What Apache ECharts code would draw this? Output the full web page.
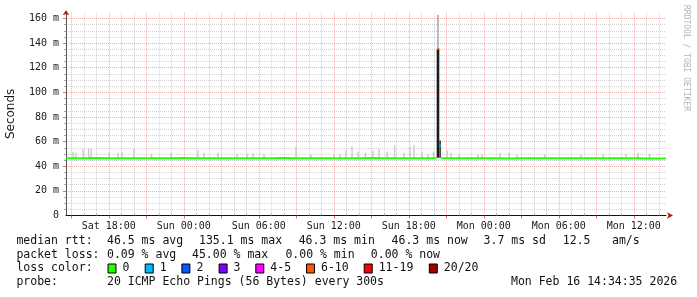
<!DOCTYPE html>
<html><head><meta charset="utf-8">
<script src="https://cdn.jsdelivr.net/npm/echarts@6/dist/echarts.min.js"></script>
<style>html,body{margin:0;padding:0;background:#fff}#c{width:697px;height:297px}</style>
</head><body><div id="c"></div>
<script>
// ---------- DATA (hours counted from Sat 00:00) ----------
const X_MIN = 14 + 34/60 + 35/3600;   // Sat 14:34:35
const X_MAX = X_MIN + 48;             // Mon 14:34:35
const Y_MAX = 165;

const xMajorHours = [15,18,21,24,27,30,33,36,39,42,45,48,51,54,57,60];
const xMinorHours = [16,17,19,20,22,23,25,26,28,29,31,32,34,35,37,38,40,41,43,44,46,47,49,50,52,53,55,56,58,59,61,62];
const xLabelHours = [18,24,30,36,42,48,54,60];
const xLabelText  = ['Sat 18:00','Sun 00:00','Sun 06:00','Sun 12:00','Sun 18:00','Mon 00:00','Mon 06:00','Mon 12:00'];

const yMajor = [20,40,60,80,100,120,140,160];
const yMinor = [5,10,15,25,30,35,45,50,55,65,70,75,85,90,95,105,110,115,125,130,135,145,150,155];
const yLabelValues = [0,20,40,60,80,100,120,140,160];
const yLabelText   = ['0','20 m','40 m','60 m','80 m','100 m','120 m','140 m','160 m'];

// median rtt (ms); null = no loss-free median (drawn in loss colour instead)
const medianTime = [14.58,15,16,17,18,19,20,21,22,23,24,25,26,27,28,29,30,31,32,33,34,35,36,37,38,39,40,41,42,43,44,44.23,44.40,44.58,45,46,47,48,49,50,51,52,53,54,55,56,57,58,59,60,61,62,62.58];
const medianMs   = [46.5,46.5,46.5,46.6,46.5,46.5,46.4,46.5,46.5,46.5,46.6,46.5,46.5,46.4,46.5,46.5,46.5,46.5,46.6,46.5,46.5,46.5,46.4,46.5,46.5,46.6,46.5,46.5,46.5,46.5,46.5,46.5,null,46.5,46.4,46.5,46.5,46.5,46.5,46.3,46.5,46.5,46.5,46.4,46.5,46.5,46.5,46.5,46.4,46.5,46.3,46.3,46.3];

// samples with packet loss
const lossStart  = [44.28, 44.44];
const lossEnd    = [44.44, 44.58];
const lossMs     = [135.1, 56.7];
const lossBucket = [5, 1];           // index into lossLabels

// light smoke (ping spread above the median)
const SMOKE_FLOOR = 46.2;
const smokeTime = [15.14,15.38,15.94,16.38,16.58,18.02,18.74,19.06,20.02,21.42,22.98,25.14,25.62,26.74,28.26,29.06,29.54,30.42,32.98,34.18,36.02,36.50,36.98,37.46,37.94,38.54,39.14,39.62,40.26,40.87,41.62,42.10,42.42,43.06,43.54,43.98,45.06,45.38,46.02,47.54,47.86,49.30,50.02,50.66,52.86,55.78,57.54,59.38,60.34,61.26];
const smokeHigh = [51.9,51,54,54.4,54,51,51,52,54,50,51,53,51,51,50,50.5,50.5,50,56,49.5,50,50,53,56,52,51,52.5,54,52,57,51,56,57,52,50,52,53,51,49.5,49.5,49.5,51,51,49.5,50,49.5,50,50,51,50];

// the spike around Sun 20:20
const spikeCoreTime = [44.336]; const spikeCoreLow = [46.8]; const spikeCoreHigh = [135.1];
const spikeTailTime = [44.336]; const spikeTailLow = [135.1]; const spikeTailHigh = [163];
const spikeSideTime = [44.508]; const spikeSideLow = [46.8]; const spikeSideHigh = [61];

// legend texts
const rttStats  = ['46.5 ms avg','135.1 ms max','46.3 ms min','46.3 ms now','3.7 ms sd','12.5','am/s'];
const lossStats = ['0.09 % avg','45.00 % max','0.00 % min','0.00 % now'];
const lossLabels = ['0','1','2','3','4-5','6-10','11-19','20/20'];
const probeText = '20 ICMP Echo Pings (56 Bytes) every 300s';
const stampText = 'Mon Feb 16 14:34:35 2026';

// ---------- STYLE / LAYOUT ----------
const lossColors = ['#26ff00','#00b8ff','#0059ff','#7e00ff','#ff00ff','#ff5500','#ff0000','#a10000'];
const MONO = '"DejaVu Sans Mono", monospace';
const majorLine = {color:'rgba(225,95,95,0.5)', width:1, type:[1,1]};
const minorLine = {color:'rgba(150,150,150,0.42)', width:1, type:[1,1]};
const ARROW = '#9a1c1c';

function smokeSeries(times, lows, highs, w, color, z) {
  return {
    type:'custom', xAxisIndex:0, yAxisIndex:0, z:z, silent:true, clip:true,
    encode:{x:0, y:[1,2]},
    data: times.map((t,i)=>[t, lows[i], highs[i]]),
    renderItem: function(params, api){
      const a = api.coord([api.value(0), api.value(1)]);
      const b = api.coord([api.value(0), api.value(2)]);
      return {type:'rect', shape:{x:a[0]-w/2, y:b[1], width:w, height:a[1]-b[1]}, style:{fill:color}};
    }
  };
}

const series = [];
series.push(smokeSeries(smokeTime, smokeTime.map(()=>SMOKE_FLOOR), smokeHigh, 1.4, '#c8c8c8', 2));
series.push(smokeSeries(spikeTailTime, spikeTailLow, spikeTailHigh, 1, '#7a7a7a', 3));
series.push(smokeSeries(spikeCoreTime, spikeCoreLow, spikeCoreHigh, 2.6, '#1c1c1c', 3));
series.push(smokeSeries(spikeSideTime, spikeSideLow, spikeSideHigh, 1.8, '#4a4a4a', 3));
series.push({
  type:'line', xAxisIndex:0, yAxisIndex:0, z:5, silent:true, showSymbol:false, connectNulls:false,
  data: medianTime.map((t,i)=>[t, medianMs[i] === null ? '-' : medianMs[i]]),
  lineStyle:{color:lossColors[0], width:2}, itemStyle:{color:lossColors[0]}
});
lossStart.forEach((s,i)=>{
  series.push({
    type:'line', xAxisIndex:0, yAxisIndex:0, z:6, silent:true, showSymbol:false,
    data:[[s, lossMs[i]], [lossEnd[i], lossMs[i]]],
    lineStyle:{color:lossColors[lossBucket[i]], width:2, cap:'butt'}
  });
});

// legend / footer graphics
const graphics = [];
function txt(x, y, s, font, fill) {
  graphics.push({type:'text', x:x, y:y, silent:true,
    style:{text:s, font:font || ('11.5px ' + MONO), fill:fill || '#111', align:'left', verticalAlign:'middle'}});
}
const ROW = [241, 255, 268.5, 282];
const rttX = [107,199,298.7,391.6,483.6,562.8,612];
const lossX = [107,192,285.4,370.8];
const boxX = [107.5,144.7,181.4,218.6,255.3,306,363.7,428.8];
txt(16.4, ROW[0], 'median rtt:');
rttStats.forEach((s,i)=>txt(rttX[i], ROW[0], s));
txt(16.4, ROW[1], 'packet loss:');
lossStats.forEach((s,i)=>txt(lossX[i], ROW[1], s));
txt(16.4, ROW[2], 'loss color:');
lossLabels.forEach((s,i)=>{
  graphics.push({type:'rect', silent:true, shape:{x:boxX[i]+0.5, y:ROW[2]-4.5, width:8, height:9},
    style:{fill:lossColors[i], stroke:'#000', lineWidth:1}});
  txt(boxX[i]+15, ROW[2], s);
});
txt(16.4, ROW[3], 'probe:');
txt(107, ROW[3], probeText);
txt(511, ROW[3], stampText);
graphics.push({type:'text', x:686.5, y:5, rotation:-Math.PI/2, silent:true,
  style:{text:'RRDTOOL / TOBI OETIKER', font:'8px ' + MONO, fill:'#b4b4b4', align:'left', verticalAlign:'middle'}});

function findLabel(vals, txts, v){ const k = vals.findIndex(a=>Math.abs(a-v)<1e-6); return k<0 ? '' : txts[k]; }

const option = {
  animation:false,
  backgroundColor:'#ffffff',
  grid:{left:66, top:12.3, width:600, height:203.2, containLabel:false, outerBoundsMode:'none'},
  xAxis:[
    {type:'value', min:X_MIN, max:X_MAX, position:'bottom',
     axisLine:{show:true, onZero:false, lineStyle:{color:'#111', width:1}},
     axisTick:{show:true, customValues:xMajorHours, length:3, lineStyle:{color:'rgba(210,80,80,0.8)'}},
     axisLabel:{show:true, customValues:xLabelHours, margin:6, fontFamily:MONO, fontSize:10, color:'#1a1a1a',
       formatter:(v)=>findLabel(xLabelHours, xLabelText, v)},
     splitLine:{show:true, lineStyle:majorLine}},
    {type:'value', min:X_MIN, max:X_MAX, position:'bottom',
     axisLine:{show:true, onZero:true, symbol:['none','arrow'], symbolSize:[5,6], symbolOffset:[0,7],
       lineStyle:{color:ARROW, width:0}},
     axisTick:{show:true, inside:true, customValues:xMinorHours, length:2, lineStyle:{color:'#aaa'}},
     axisLabel:{show:false},
     splitLine:{show:true, lineStyle:minorLine}},
    // helper axis: its zero sits on the left edge, so the arrow axis below can stand there
    {type:'value', min:0, max:1, show:false, position:'top',
     axisLine:{onZero:false}, splitLine:{show:false}}
  ],
  yAxis:[
    {type:'value', min:0, max:Y_MAX, position:'left',
     axisLine:{show:true, onZero:false, lineStyle:{color:'#555', width:1}},
     axisTick:{show:true, customValues:yMajor, length:3, lineStyle:{color:'rgba(210,80,80,0.8)'}},
     axisLabel:{show:true, customValues:yLabelValues, margin:7, fontFamily:MONO, fontSize:10, color:'#1a1a1a',
       formatter:(v)=>findLabel(yLabelValues, yLabelText, v)},
     splitLine:{show:true, lineStyle:majorLine},
     name:'Seconds', nameLocation:'middle', nameGap:49,
     nameTextStyle:{fontFamily:'"DejaVu Sans", sans-serif', fontSize:12, color:'#1a1a1a'}},
    {type:'value', min:0, max:Y_MAX, position:'right',
     axisLine:{show:true, onZero:true, onZeroAxisIndex:2, symbol:['none','arrow'], symbolSize:[5,5], symbolOffset:[0,2],
       lineStyle:{color:ARROW, width:0}},
     axisTick:{show:true, inside:true, customValues:yMinor, length:2, lineStyle:{color:'#aaa'}},
     axisLabel:{show:false},
     splitLine:{show:true, lineStyle:minorLine}}
  ],
  series: series,
  graphic: graphics
};
const chart = echarts.init(document.getElementById('c'), null, {renderer:'canvas', width:697, height:297});
chart.setOption(option);
</script></body></html>
